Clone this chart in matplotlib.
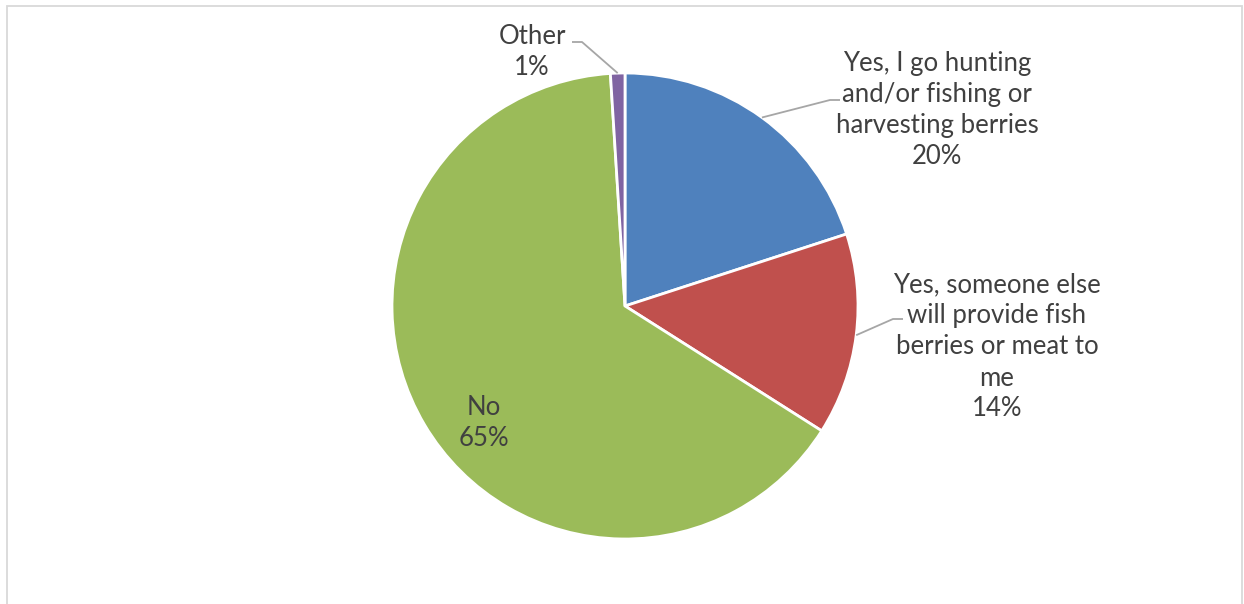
import numpy as np
import matplotlib.pyplot as plt
from matplotlib.patches import Rectangle

labels = [
    "Yes, I go hunting\nand/or fishing or\nharvesting berries",
    "Yes, someone else\nwill provide fish\nberries or meat to\nme",
    "No",
    "Other",
]
values = [20, 14, 65, 1]
colors = ["#4F81BD", "#C0504D", "#9BBB59", "#8064A2"]

W, H = 1244, 604
TEXT = "#404040"
LEADER = "#A6A6A6"
plt.rcParams["font.family"] = ["Lato", "DejaVu Sans"]

fig = plt.figure(figsize=(W / 100, H / 100), dpi=100)
ax = fig.add_axes([0, 0, 1, 1])


def py(y):
    # pixel row from top -> data y
    return H - y


center = (625, py(306))
radius = 233

wedges, _ = ax.pie(
    values,
    colors=colors,
    startangle=90,
    counterclock=False,
    center=center,
    radius=radius,
    wedgeprops=dict(edgecolor="white", linewidth=2),
    frame=True,
)
ax.set_xlim(0, W)
ax.set_ylim(0, H)
ax.set_aspect("equal")
ax.axis("off")

# label text centers and leader elbows (pixel coords from top)
text_pos = [(937, 110), (997, 347), (484, 423), (532, 52)]
elbows = [[(830, 100), (840, 100)], [(893, 319), (903, 319)], None, [(582, 42), (572, 42)]]

total = sum(values)
for w, lab, v, tp, el in zip(wedges, labels, values, text_pos, elbows):
    ax.text(tp[0], py(tp[1]), f"{lab}\n{round(100 * v / total)}%",
            ha="center", va="center", fontsize=18.5, color=TEXT,
            linespacing=1.3)
    if el is None:
        continue
    mid = np.deg2rad((w.theta1 + w.theta2) / 2)
    sx = center[0] + radius * np.cos(mid)
    sy = center[1] + radius * np.sin(mid)
    xs = [sx] + [p[0] for p in el]
    ys = [sy] + [py(p[1]) for p in el]
    ax.plot(xs, ys, color=LEADER, lw=1.3, solid_capstyle="butt")

ax.add_patch(Rectangle((6.5, -10), 1235, py(5.5) + 10, fill=False,
                       edgecolor="#D9D9D9", lw=1.3, clip_on=False))

fig.savefig("out.png", dpi=100)
